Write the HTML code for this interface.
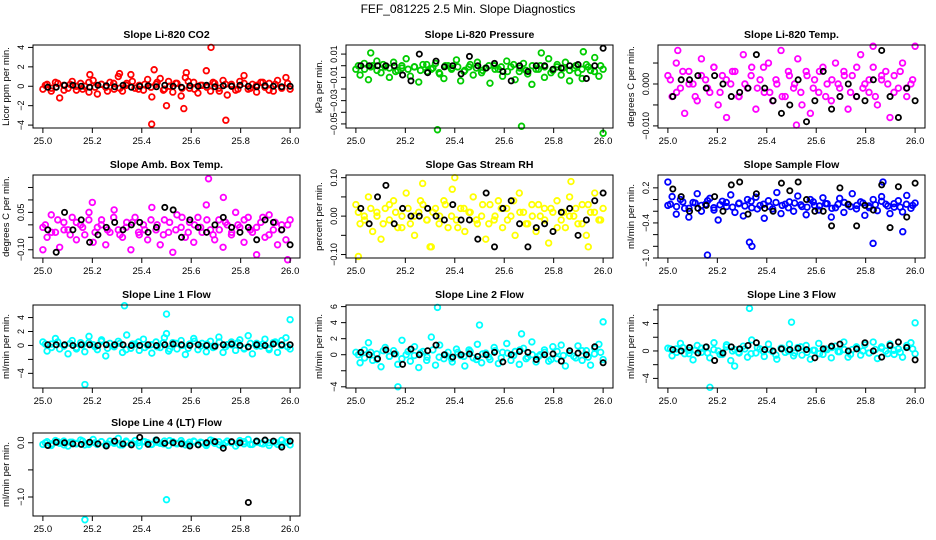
<!DOCTYPE html>
<html><head><meta charset="utf-8"><style>
body{margin:0;background:#fff}
svg{display:block;font-family:"Liberation Sans",sans-serif}
</style></head><body>
<svg id="chart" width="936" height="540" viewBox="0 0 936 540" xmlns="http://www.w3.org/2000/svg">
<text x="468" y="13" text-anchor="middle" font-size="12">FEF_081225  2.5 Min. Slope Diagnostics</text>
</svg>
<script>
// ---- data ----
const xTicks = [25.0, 25.2, 25.4, 25.6, 25.8, 26.0];
const xTickLabels = ["25.0","25.2","25.4","25.6","25.8","26.0"];

const co2Vals = [-0.3,0.2,-0.5,0.4,-1.2,0.1,-0.2,0.5,-0.4,0.3,0.0,-0.6,0.6,-0.8,0.2,-0.1,0.4,-0.3,1.0,-0.5,0.3,1.2,-0.2,0.1,-0.4,0.7,-1.1,0.2,0.8,-0.3,0.5,-0.6,0.3,-1.0,0.9,-0.2,0.4,-0.7,0.1,1.6,-0.5,0.3,-0.2,0.6,-0.9,0.2,-0.4,0.5,1.1,-0.3,0.2,-0.6,0.4,-0.1,0.3,-0.5,0.6,-0.2,0.9,-0.3];
const co2Vals2 = [0.1,-0.2,0.3,-0.4,0.2,0.0,-0.3,0.4,-0.1,0.2,-0.5,0.3,-0.2,0.1,0.5,-0.3,0.2,-0.1,0.4,-0.4,0.0,0.3,-0.2,0.5,-0.3,0.1,-0.1,0.4,-0.5,0.2,0.0,-0.3,0.3,-0.2,0.1,0.4,-0.4,0.2,-0.1,0.3];
const co2Out = [[25.44,-3.9],[25.45,1.7],[25.5,-2.0],[25.57,-2.3],[25.68,4.0],[25.74,-3.5],[25.31,1.3],[25.58,1.4],[25.19,1.2]];
const co2Black = [-0.1,-0.1,0.1,0.1,0,-0.1,0.1,0.05,-0.05,0.1,-0.1,0,0.05,-0.05,0.1,0,-0.1,0.05,0,0.1,-0.05,0.05,0,0.1,0,-0.05,0.05,0,-0.05,0];

const presVals = [-0.003,-0.008,0.002,-0.012,0,0.004,-0.006,-0.001,-0.010,0.003,-0.004,-0.002,0.006,-0.009,-0.001,-0.014,0.001,-0.005,-0.003,0.002,-0.007,-0.011,0,-0.002,0.005,-0.013,-0.004,-0.001,-0.008,0.003,-0.006,-0.002,-0.015,0,-0.003,-0.009,0.004,-0.001,-0.012,-0.005,0.002,-0.007,-0.016,-0.003,0,-0.010,0.006,-0.004,-0.001,-0.008,0.003,-0.013,-0.002,-0.006,-0.011,0.001,-0.004,0.007,-0.009,-0.003];
const presVals2 = [0,-0.003,-0.001,-0.004,0.001,-0.002,-0.005,0,-0.003,-0.001,-0.004,0.001,-0.002,-0.006,0,-0.003,-0.001,-0.005,0.001,-0.002,-0.004,0,-0.003,-0.001,-0.005,0.001,-0.002,-0.004,0,-0.003,-0.001,-0.006,0.001,-0.002,-0.004,0,-0.003,-0.001,-0.005,0];
const presOut = [[25.33,-0.055],[25.67,-0.052],[26.0,-0.058],[25.06,0.011],[25.75,0.011],[25.92,0.012]];
const presBlack = [0,0,0,0,0,-0.008,-0.013,0.010,-0.006,0.004,-0.001,0,-0.007,0.008,0,-0.002,0.002,-0.005,-0.013,0,-0.005,0,0,-0.003,-0.002,0,0.001,-0.011,0,0.015];

const tempVals = [0.002,-0.003,0.005,-0.001,-0.007,0.003,0,-0.004,0.006,0.001,-0.002,0.004,-0.005,0.002,-0.008,0,0.003,-0.003,0.007,-0.001,0.004,-0.006,0.001,-0.002,0.005,-0.004,0,0.008,-0.003,0.002,-0.001,0.006,-0.005,0.003,-0.007,0.001,-0.002,0.004,0,-0.004,0.005,-0.001,0.003,-0.006,0.002,-0.003,0.007,0,-0.002,0.004,-0.005,0.001,0.003,-0.008,0.002,-0.001,0.005,-0.003,0,0.009];
const tempVals2 = [0.001,-0.002,0.003,0,-0.003,0.002,-0.001,0.004,-0.002,0.001,0.003,-0.003,0,0.002,-0.001,0.004,-0.002,0.001,-0.003,0.003,0,-0.002,0.002,-0.001,0.003,-0.003,0.001,0,0.002,-0.002,0.004,-0.001,0.001,-0.003,0.002,0,-0.002,0.003,-0.001,0.001];
const tempOut = [[25.52,-0.0098],[25.04,0.008],[25.83,0.009]];
const tempBlack = [-0.003,0.001,0.001,0.002,-0.001,0.002,0,-0.003,-0.002,-0.001,0.007,-0.001,-0.004,-0.007,-0.005,0.001,-0.009,-0.004,0.003,-0.006,-0.003,0,-0.003,-0.004,0.001,0.008,-0.003,-0.008,-0.001,-0.004];

const ambVals = [-0.01,-0.05,0.04,-0.03,-0.09,0.01,-0.02,0.03,-0.06,0,-0.04,0.05,-0.07,-0.01,0.02,-0.08,-0.03,0.06,-0.02,-0.05,0.01,-0.10,0.03,-0.04,0,-0.06,0.07,-0.02,-0.08,0.02,-0.03,-0.11,0.04,-0.01,-0.05,0.01,-0.07,0.03,-0.03,0.08,-0.02,-0.06,0.02,-0.09,0,-0.04,0.05,-0.01,-0.07,0.03,-0.03,-0.12,0.01,-0.05,0.04,-0.02,-0.08,0,-0.06,0.02];
const ambVals2 = [0,-0.03,0.02,-0.02,-0.04,0.01,-0.01,0.02,-0.03,0,-0.02,0.03,-0.04,-0.01,0.01,-0.03,-0.02,0.02,0,-0.04,0.01,-0.02,0.03,-0.03,0,-0.01,0.02,-0.04,-0.02,0.01,-0.03,0,0.02,-0.02,-0.01,0.03,-0.04,0.01,-0.02,0];
const ambOut = [[25.67,0.185],[25.2,0.09],[25.73,0.11],[25.99,-0.14],[25.0,-0.1]];
const ambBlack = [-0.02,-0.11,0.05,-0.02,0.02,-0.07,-0.04,-0.01,0.01,-0.02,0,0.01,-0.03,-0.01,0.07,0.06,-0.05,0.02,-0.01,-0.03,0,0.03,-0.01,-0.03,-0.01,-0.06,0.02,0.01,-0.02,-0.08];

const rhVals = [0.03,-0.02,0,0.05,-0.04,0.01,-0.06,0.02,-0.01,0.04,-0.03,0,0.06,-0.02,-0.05,0.01,0.03,-0.01,-0.08,0.02,0,0.04,-0.03,0.07,-0.01,0.02,-0.04,0.01,0.05,-0.02,0,-0.06,0.03,-0.01,0.04,-0.03,0.02,0,-0.05,0.06,0.01,-0.02,0.03,-0.04,0,0.02,-0.07,0.01,0.04,-0.01,-0.03,0.05,0,-0.02,0.03,-0.05,0.01,0.06,-0.01,0.02];
const rhVals2 = [0.01,-0.01,0.02,0,-0.02,0.03,0.01,-0.03,0.02,0,0.04,-0.01,0.01,-0.02,0.03,0,-0.03,0.02,0.01,-0.01,0.03,-0.02,0,0.02,-0.01,0.04,0.01,-0.02,0,0.03,-0.01,0.02,-0.03,0.01,0,0.02,-0.02,0.03,0.01,-0.01];
const rhOut = [[25.01,-0.105],[25.27,0.085],[25.4,0.1],[25.87,0.09],[25.94,-0.08],[25.3,-0.08]];
const rhBlack = [0.02,-0.02,0.05,0.08,-0.02,0.02,0,0,0.02,0,-0.01,0.03,-0.01,-0.01,-0.06,0.06,-0.08,0.02,0.04,-0.02,-0.08,-0.03,-0.02,-0.04,0.01,0.02,-0.05,-0.01,0.04,0.06];

const flowVals = [-0.10,0.05,-0.25,0,-0.15,-0.30,-0.05,0.10,-0.20,-0.08,0.02,-0.18,-0.35,-0.03,-0.12,0.08,-0.22,-0.06,-0.28,0,-0.14,0.04,-0.10,-0.32,-0.02,-0.16,0.12,-0.24,-0.08,-0.04,-0.20,0.06,-0.12,-0.26,0,-0.10,-0.18,0.03,-0.07,-0.30,-0.14,0.02,-0.22,-0.09,0.10,-0.16,-0.04,-0.27,-0.11,0,-0.19,0.05,-0.08,-0.24,-0.13,-0.02,-0.21,0.07,-0.15,-0.06];
const flowVals2 = [-0.08,-0.12,-0.04,-0.15,-0.06,-0.10,-0.02,-0.14,-0.09,-0.05,-0.13,-0.07,-0.11,-0.03,-0.16,-0.08,-0.12,-0.05,-0.10,-0.14,-0.06,-0.09,-0.13,-0.04,-0.11,-0.07,-0.15,-0.08,-0.05,-0.12,-0.10,-0.06,-0.14,-0.09,-0.03,-0.11,-0.07,-0.13,-0.08,-0.10];
const flowOut = [[25.0,0.3],[25.16,-0.95],[25.33,-0.73],[25.34,-0.8],[25.83,-0.75],[25.95,-0.55],[25.87,0.3]];
const flowBlack = [0.18,0.05,-0.2,-0.15,-0.1,0.05,-0.2,0.25,0.3,-0.25,0.1,-0.15,-0.2,0.28,0.15,0.3,0,-0.2,-0.2,-0.45,0.2,-0.08,-0.45,-0.1,-0.18,0.25,-0.48,0.22,-0.3,0.28];

const l1Vals = [0.5,-0.8,0.2,1.0,-0.5,0.0,-1.2,0.7,-0.3,0.4,-0.9,1.3,0.1,-0.6,0.8,-1.5,0.3,-0.2,0.6,-1.0,1.5,-0.4,0.2,-0.7,0.9,0.0,-1.1,0.5,-0.3,1.1,-0.8,0.4,-0.5,0.7,-1.3,0.2,1.0,-0.6,0.3,-0.9,0.6,-0.2,1.2,-1.0,0.1,0.5,-0.7,0.8,-0.4,1.4,-1.2,0.3,-0.1,0.9,-0.6,0.4,-1.0,0.7,1.1,-0.5];
const l1Vals2 = [0.2,-0.3,0.5,-0.1,0.3,-0.5,0.1,0.4,-0.2,0.6,-0.4,0.0,0.3,-0.6,0.2,0.5,-0.3,0.1,-0.2,0.4,-0.5,0.3,0.0,-0.4,0.6,-0.1,0.2,-0.3,0.5,-0.2,0.1,0.4,-0.5,0.3,-0.1,0.2,-0.4,0.5,0.0,-0.2];
const l1Out = [[25.17,-5.6],[25.33,5.7],[25.5,4.5],[26.0,3.7],[25.5,1.7]];
const l1Black = [0.1,0.1,0.1,0,0.1,0.1,0,0.1,0.1,0.1,0,0,0.1,0,0.1,0.2,0.1,0,0.1,0,-0.1,0.1,0.2,0,-0.2,0.1,0,0.2,0.1,0.1];

const l2Vals = [0.3,-1.0,0.6,1.5,-0.7,0.1,-1.5,0.9,-0.2,0.5,-1.2,1.8,0.0,-0.8,1.0,-1.6,0.4,-0.3,2.2,-1.3,1.2,-0.5,0.3,-0.9,0.7,-0.1,-1.4,0.6,-0.4,1.3,-1.0,0.2,-0.6,0.9,-1.1,0.3,1.4,-0.7,0.4,-1.2,0.8,-0.3,1.6,-0.9,0.0,0.6,-0.8,1.0,-0.5,1.2,-1.4,0.2,-0.2,1.1,-0.7,0.5,-1.3,0.8,1.3,-0.6];
const l2Vals2 = [0.0,-0.4,0.3,-0.6,0.5,-0.2,0.1,-0.5,0.4,-0.1,0.2,-0.7,0.6,-0.3,0.0,-0.5,0.3,-0.2,0.4,-0.6,0.1,-0.3,0.5,-0.4,0.2,-0.1,0.6,-0.5,0.0,-0.2,0.3,-0.6,0.4,-0.1,0.2,-0.4,0.5,-0.3,0.1,0.3];
const l2Out = [[25.17,-4.0],[25.33,5.9],[25.5,3.7],[25.67,2.6],[26.0,4.1]];
const l2Black = [0.3,0,-0.5,0.6,0.1,-1.2,0.7,0,0.5,1.2,0,-0.3,0,0.1,-0.2,0,0.3,-0.9,0,0.4,0.3,-0.6,0,0.1,-0.8,0.5,0.2,0,1.0,-1.0];

const l3Vals = [0.4,-0.7,0.3,1.1,-0.4,0.1,-1.3,0.8,-0.2,0.5,-1.0,1.2,0.0,-0.5,0.9,-1.4,0.2,-0.3,0.7,-0.9,1.6,-0.3,0.3,-0.8,1.0,-0.1,-1.2,0.4,-0.2,1.0,-0.7,0.5,-0.6,0.8,-1.2,0.1,1.1,-0.5,0.2,-1.0,0.7,-0.1,1.3,-0.9,0.2,0.6,-0.6,0.9,-0.3,1.3,-1.1,0.4,0.0,1.0,-0.5,0.3,-0.9,0.8,1.2,-0.4];
const l3Vals2 = [0.3,-0.2,0.5,-0.4,0.1,0.4,-0.3,0.2,-0.5,0.6,0.0,-0.2,0.3,-0.4,0.5,-0.1,0.2,-0.6,0.4,0.0,-0.3,0.6,-0.2,0.1,-0.4,0.3,0.5,-0.1,0.2,-0.5,0.4,0.0,-0.3,0.2,0.6,-0.4,0.1,-0.2,0.5,0.3];
const l3Out = [[25.17,-5.3],[25.33,6.2],[25.5,4.2],[26.0,4.1],[25.27,-2.2]];
const l3Black = [0.2,0,0.5,-0.3,0.6,-1.4,-0.3,0.6,0.3,0.8,1.2,0.2,0,0.3,0.2,0.4,0.2,-1.0,0.3,0.7,1.0,0,0.3,1.2,0,-0.9,0.8,1.3,0.5,-1.3];

const l4Vals = [-0.03,0.02,-0.05,0.04,-0.01,0.03,-0.06,0.01,-0.02,0.05,-0.04,0.0,0.06,-0.03,0.02,-0.05,0.03,-0.01,0.08,-0.04,0.01,-0.02,0.04,-0.06,0.02,0.0,-0.03,0.05,-0.01,0.03,-0.05,0.02,-0.02,0.04,-0.04,0.01,0.03,-0.03,0.0,-0.05,0.05,-0.01,0.02,-0.04,0.03,0.0,-0.06,0.04,-0.02,0.06,-0.03,0.01,-0.01,0.04,-0.05,0.02,-0.03,0.05,0.01,-0.04];
const l4Vals2 = [0.0,-0.02,0.02,-0.04,0.01,-0.01,0.03,-0.03,0.0,0.02,-0.02,0.01,-0.04,0.03,-0.01,0.0,0.02,-0.03,0.01,-0.02,0.04,-0.01,0.0,-0.03,0.02,0.01,-0.02,0.03,-0.04,0.0,0.01,-0.01,0.02,-0.03,0.03,-0.02,0.0,0.01,-0.04,0.02];
const l4Out = [[25.17,-1.42],[25.5,-1.05]];
const l4Black = [-0.05,0.01,0,-0.02,-0.03,0.01,-0.02,-0.06,0.03,-0.02,-0.04,0.1,-0.03,0.05,-0.01,0,-0.02,-0.06,-0.04,0,0.02,-0.1,0.02,0,-1.1,0.03,0.05,0.03,-0.08,0.03];

// ---- layout ----
const cols = [33, 346, 658];
const rows = [45, 175, 305, 433];
const W = 267, H = 83;
const panels = [
 {name:"li820-co2",title:"Slope Li-820 CO2",ylab:"Licor ppm per min.",c:0,r:0,ymin:-4.3,ymax:4.25,ticks:[-4,-2,0,2,4],labels:["−4","−2","0","2","4"],color:"#ff0000",vals:co2Vals,vals2:co2Vals2,out:co2Out,blk:co2Black},
 {name:"li820-pressure",title:"Slope Li-820 Pressure",ylab:"kPa per min.",c:1,r:0,ymin:-0.0535,ymax:0.0178,ticks:[-0.05,-0.04,-0.03,-0.02,-0.01,0,0.01],labels:["−0.05","","−0.03","","−0.01","","0.01"],color:"#00cc00",vals:presVals,vals2:presVals2,out:presOut,blk:presBlack},
 {name:"li820-temp",title:"Slope Li-820 Temp.",ylab:"degrees C per min.",c:2,r:0,ymin:-0.0105,ymax:0.0093,ticks:[-0.01,-0.005,0,0.005],labels:["−0.010","","0.000",""],color:"#ff00ff",vals:tempVals,vals2:tempVals2,out:tempOut,blk:tempBlack},
 {name:"amb-box-temp",title:"Slope Amb. Box Temp.",ylab:"degrees C per min.",c:0,r:1,ymin:-0.133,ymax:0.2,ticks:[-0.1,-0.05,0,0.05,0.1,0.15],labels:["−0.10","","","0.05","",""],color:"#ff00ff",vals:ambVals,vals2:ambVals2,out:ambOut,blk:ambBlack},
 {name:"gas-stream-rh",title:"Slope Gas Stream RH",ylab:"percent per min.",c:1,r:1,ymin:-0.109,ymax:0.107,ticks:[-0.1,-0.05,0,0.05,0.1],labels:["−0.10","","0.00","","0.10"],color:"#ffff00",vals:rhVals,vals2:rhVals2,out:rhOut,blk:rhBlack},
 {name:"sample-flow",title:"Slope Sample Flow",ylab:"ml/min per min.",c:2,r:1,ymin:-1.0,ymax:0.42,ticks:[-1.0,-0.8,-0.6,-0.4,-0.2,0,0.2],labels:["−1.0","","","−0.4","","","0.2"],color:"#0000ff",vals:flowVals,vals2:flowVals2,out:flowOut,blk:flowBlack},
 {name:"line1-flow",title:"Slope Line 1 Flow",ylab:"ml/min per min.",c:0,r:2,ymin:-6.1,ymax:5.8,ticks:[-4,-2,0,2,4],labels:["−4","","0","2","4"],color:"#00ffff",vals:l1Vals,vals2:l1Vals2,out:l1Out,blk:l1Black},
 {name:"line2-flow",title:"Slope Line 2 Flow",ylab:"ml/min per min.",c:1,r:2,ymin:-4.15,ymax:6.2,ticks:[-4,-2,0,2,4,6],labels:["−4","","0","2","4","6"],color:"#00ffff",vals:l2Vals,vals2:l2Vals2,out:l2Out,blk:l2Black},
 {name:"line3-flow",title:"Slope Line 3 Flow",ylab:"ml/min per min.",c:2,r:2,ymin:-5.4,ymax:6.7,ticks:[-4,-2,0,2,4,6],labels:["−4","","0","","4",""],color:"#00ffff",vals:l3Vals,vals2:l3Vals2,out:l3Out,blk:l3Black},
 {name:"line4-flow",title:"Slope Line 4 (LT) Flow",ylab:"ml/min per min.",c:0,r:3,ymin:-1.35,ymax:0.18,ticks:[-1.0,-0.5,0],labels:["−1.0","","0.0"],color:"#00ffff",vals:l4Vals,vals2:l4Vals2,out:l4Out,blk:l4Black}
];

const NS = "http://www.w3.org/2000/svg";
const svg = document.getElementById('chart');
function mk(tag, attrs, parent){ const e=document.createElementNS(NS,tag); for(const k in attrs) e.setAttribute(k,attrs[k]); (parent||svg).appendChild(e); return e; }

panels.forEach(p => {
  const L = cols[p.c], T = rows[p.r];
  const x0 = L + W*0.04/1.08, x1 = L + W - W*0.04/1.08;
  const xs = v => x0 + (v-25)*(x1-x0);
  const ys = v => T + H - (v-p.ymin)/(p.ymax-p.ymin)*H;
  const g = mk('g', {});
  
  

  const tt = mk('text', {x:L+W/2, y:T-7, 'text-anchor':'middle','font-size':10.5,'font-weight':'bold'}, g);
  
  
  tt.textContent = p.title;

  const pts = mk('g', {fill:'none','stroke-width':1.8}, g);
  
  
  const n = p.vals.length;
  p.vals.forEach((v,i) => {
    const c = mk('circle', {cx:xs(25+i/(n-1)), cy:ys(v), r:2.8, stroke:p.color}, pts);
    
    
  });
  const n2 = p.vals2.length;
  p.vals2.forEach((v,i) => {
    const c = mk('circle', {cx:xs(25.01+i*0.98/(n2-1)), cy:ys(v), r:2.8, stroke:p.color}, pts);
    
    
  });
  p.out.forEach(o => {
    const c = mk('circle', {cx:xs(o[0]), cy:ys(o[1]), r:2.8, stroke:p.color}, pts);
    
    
  });
  const m = p.blk.length;
  p.blk.forEach((v,i) => {
    const c = mk('circle', {cx:xs(25.02+i*0.98/(m-1)), cy:ys(v), r:2.6, stroke:'#000'}, pts);
    
    
  });

  const fr = mk('rect', {x:L, y:T, width:W, height:H, fill:'none', stroke:'#000', 'stroke-width':1}, g);
  
  

  const xa = mk('g', {}, g);
  
  
  mk('line', {x1:xs(xTicks[0]), x2:xs(xTicks[xTicks.length-1]), y1:T+H, y2:T+H, stroke:'#000'}, xa);
  xTicks.forEach((t,i) => {
    mk('line', {x1:xs(t), x2:xs(t), y1:T+H, y2:T+H+5, stroke:'#000'}, xa);
    const lt = mk('text', {x:xs(t), y:T+H+16, 'text-anchor':'middle','font-size':9.5}, xa);
    
    
    lt.textContent = xTickLabels[i];
  });

  const ya = mk('g', {}, g);
  
  
  mk('line', {x1:L, x2:L, y1:ys(p.ticks[0]), y2:ys(p.ticks[p.ticks.length-1]), stroke:'#000'}, ya);
  p.ticks.forEach((t,i) => {
    const y = ys(t);
    mk('line', {x1:L-5, x2:L, y1:y, y2:y, stroke:'#000'}, ya);
    if (p.labels[i]) {
      const lt = mk('text', {x:0, y:0, 'text-anchor':'middle','font-size':9, transform:`translate(${L-9},${y}) rotate(-90)`}, ya);
      
      
      lt.textContent = p.labels[i];
    }
  });
  const yl = mk('text', {x:0, y:0, 'text-anchor':'middle','font-size':9.5, transform:`translate(${L-24},${T+H/2}) rotate(-90)`}, g);
  
  
  yl.textContent = p.ylab;
});
</script>
</body></html>
